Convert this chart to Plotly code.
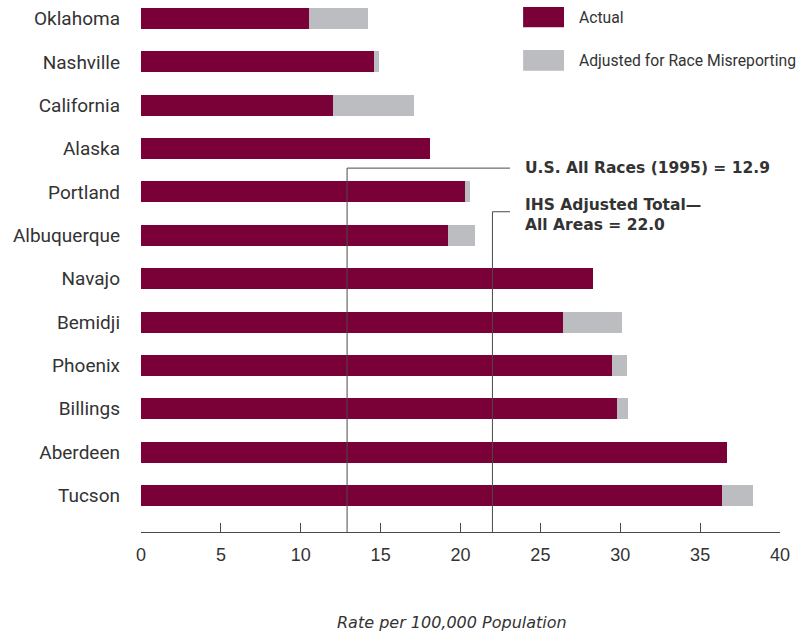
import plotly.graph_objects as go

# Data (rate per 100,000 population)
areas = ["Tucson", "Aberdeen", "Billings", "Phoenix", "Bemidji", "Navajo",
         "Albuquerque", "Portland", "Alaska", "California", "Nashville", "Oklahoma"]
actual = [36.4, 36.7, 29.8, 29.5, 26.4, 28.3, 19.2, 20.3, 18.1, 12.0, 14.6, 10.5]
adjusted_total = [38.3, 36.7, 30.5, 30.4, 30.1, 28.3, 20.9, 20.6, 18.1, 17.1, 14.9, 14.2]
us_all_races = 12.9
ihs_total = 22.0
x_ticks = [0, 5, 10, 15, 20, 25, 30, 35, 40]

MAROON = "#7a0038"
GREY = "#bcbdc0"
TEXT = "#333333"
LINE = "#4a4a4a"

extra = [round(t - a, 2) for t, a in zip(adjusted_total, actual)]

fig = go.Figure()
fig.add_trace(go.Bar(y=areas, x=actual, orientation="h", marker_color=MAROON,
                     marker_line_width=0, width=0.484, name="Actual"))
fig.add_trace(go.Bar(y=areas, x=extra, orientation="h", marker_color=GREY,
                     marker_line_width=0, width=0.484, name="Adjusted for Race Misreporting"))

# reference lines with leaders to their labels
fig.add_shape(type="line", xref="x", yref="paper", x0=us_all_races, x1=us_all_races,
              y0=0, y1=0.684, line=dict(color=LINE, width=1))
fig.add_shape(type="line", xref="x", yref="paper", x0=us_all_races, x1=23.1,
              y0=0.684, y1=0.684, line=dict(color=LINE, width=1))
fig.add_shape(type="line", xref="x", yref="paper", x0=ihs_total, x1=ihs_total,
              y0=0, y1=0.602, line=dict(color=LINE, width=1))
fig.add_shape(type="line", xref="x", yref="paper", x0=ihs_total, x1=23.1,
              y0=0.602, y1=0.602, line=dict(color=LINE, width=1))

fig.add_annotation(xref="paper", yref="paper", x=0.598, y=0.684, xanchor="left",
                   yanchor="middle", showarrow=False,
                   text=f"<b>U.S. All Races (1995) = {us_all_races}</b>",
                   font=dict(family="DejaVu Sans", size=15.5, color=TEXT))
fig.add_annotation(xref="paper", yref="paper", x=0.598, y=0.596, xanchor="left",
                   yanchor="middle", showarrow=False, align="left",
                   text=f"<b>IHS Adjusted Total—<br>All Areas = {ihs_total}</b>",
                   font=dict(family="DejaVu Sans", size=15.5, color=TEXT))

# legend drawn by hand (big swatches)
fig.add_shape(type="rect", xref="paper", yref="paper", x0=0.598, x1=0.662,
              y0=0.949, y1=0.987, fillcolor=MAROON, line_width=0)
fig.add_shape(type="rect", xref="paper", yref="paper", x0=0.598, x1=0.662,
              y0=0.867, y1=0.906, fillcolor=GREY, line_width=0)
fig.add_annotation(xref="paper", yref="paper", x=0.683, y=0.968, xanchor="left",
                   yanchor="middle", showarrow=False, text="Actual",
                   font=dict(family="Roboto", size=15.7, color=TEXT))
fig.add_annotation(xref="paper", yref="paper", x=0.683, y=0.887, xanchor="left",
                   yanchor="middle", showarrow=False, text="Adjusted for Race Misreporting",
                   font=dict(family="Roboto", size=15.7, color=TEXT))

# x axis title
fig.add_annotation(xref="paper", yref="paper", x=0.487, y=-0.171, xanchor="center",
                   yanchor="middle", showarrow=False, text="<i>Rate per 100,000 Population</i>",
                   font=dict(family="DejaVu Sans", size=16, color=TEXT))

fig.update_layout(
    barmode="stack",
    width=803, height=637,
    margin=dict(l=141, r=23, t=0, b=105),
    plot_bgcolor="white", paper_bgcolor="white",
    showlegend=False,
    xaxis=dict(range=[0, 40], tickvals=x_ticks, showgrid=False, zeroline=False,
               showline=True, linecolor=LINE, linewidth=1,
               ticks="inside", ticklen=9, tickcolor=LINE, tickwidth=1,
               ticklabelstandoff=6,
               tickfont=dict(family="Liberation Sans Narrow, Liberation Sans", size=18, color=TEXT)),
    yaxis=dict(categoryorder="array", categoryarray=areas, range=[-0.842, 11.427],
               showgrid=False, zeroline=False, showline=False, ticks="",
               ticklabelstandoff=20,
               tickfont=dict(family="Roboto", size=19, color=TEXT)),
)

# drop the default page margin so the figure sits at the window's corner
fig.write_html("out.html", config={"displayModeBar": False},
               post_script="document.body.style.margin='0';")
